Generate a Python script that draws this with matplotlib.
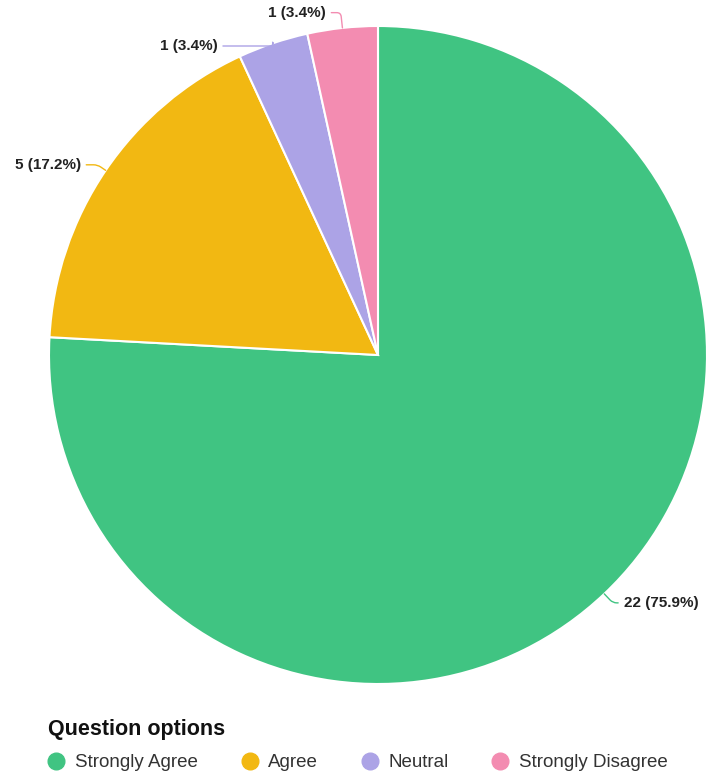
import numpy as np
import matplotlib
matplotlib.use("Agg")
import matplotlib.pyplot as plt
from matplotlib.lines import Line2D

plt.rcParams['font.family'] = ['Liberation Sans', 'DejaVu Sans']

# survey answers
labels = ["Strongly Agree", "Agree", "Neutral", "Strongly Disagree"]
counts = [22, 5, 1, 1]
colors = ["#40C482", "#F2B812", "#ACA3E6", "#F38CB1"]
# label offsets in points (dx, dy) from the wedge edge, and text alignment
offsets = [(14, -6.5), (-18, 4), (-40, -2), (-12, 11)]
aligns = ["left", "right", "right", "right"]

W, H = 709, 774
fig = plt.figure(figsize=(W / 100, H / 100), dpi=100)
fig.patch.set_facecolor("white")

cx, cy, r = 378, 355, 329
ax = fig.add_axes([(cx - r) / W, (H - cy - r) / H, 2 * r / W, 2 * r / H])
wedges, _ = ax.pie(counts, colors=colors, startangle=90, counterclock=False,
                   radius=1, wedgeprops=dict(edgecolor="white", linewidth=1.5))
ax.set_xlim(-1, 1)
ax.set_ylim(-1, 1)
ax.set_aspect("equal")
ax.axis("off")

total = sum(counts)
for w, n, col, off, ha in zip(wedges, counts, colors, offsets, aligns):
    ang = (w.theta1 + w.theta2) / 2
    x, y = np.cos(np.radians(ang)), np.sin(np.radians(ang))
    ax.annotate(f"{n} ({n / total * 100:.1f}%)", xy=(x, y), xytext=off,
                textcoords="offset points", ha=ha, va="center",
                fontsize=11, fontweight="bold", color="#222222",
                annotation_clip=False,
                arrowprops=dict(arrowstyle="-", color=col, lw=1,
                                shrinkA=2, shrinkB=0,
                                connectionstyle=f"angle,angleA=0,angleB={ang},rad=4"))

handles = [Line2D([], [], marker="o", linestyle="none", markersize=12,
                  markerfacecolor=c, markeredgecolor=c) for c in colors]
leg = fig.legend(handles, labels, ncol=4, loc="upper left",
                 bbox_to_anchor=(48 / W, 1 - 719 / H), frameon=False,
                 title="Question options", alignment="left",
                 fontsize=13.5, title_fontproperties=dict(weight="bold", size=15.5),
                 handlelength=0.9, handletextpad=0.55, columnspacing=2.3,
                 labelspacing=0.75, borderpad=0, borderaxespad=0)
for t in leg.get_texts():
    t.set_color("#333333")
leg.get_title().set_color("#111111")

fig.savefig("out.png", dpi=100, facecolor="white")
